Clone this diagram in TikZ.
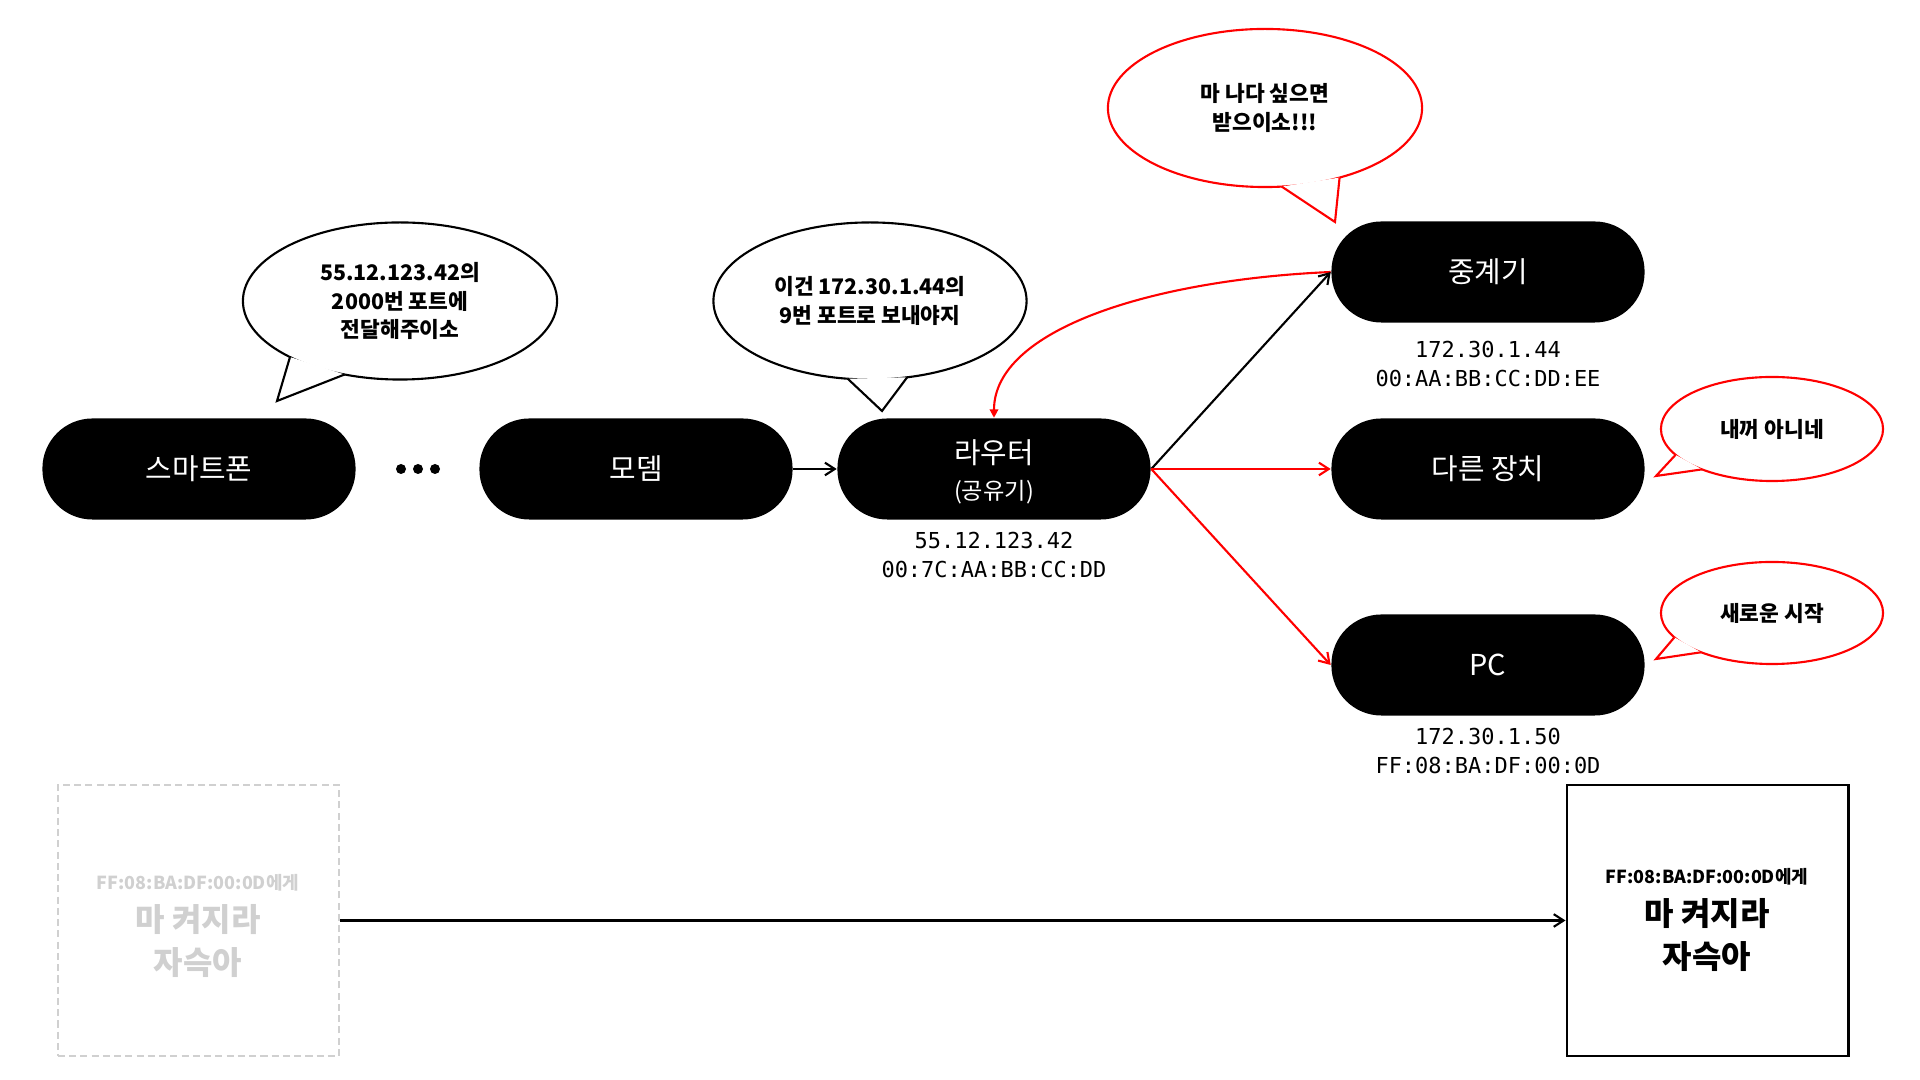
\documentclass[tikz,border=0pt]{standalone}
\usepackage{fontspec}
\setmainfont{Noto Sans CJK KR}
\newfontfamily\monof{DejaVu Sans Mono}
\usetikzlibrary{arrows.meta,shapes.geometric}
\definecolor{lightgr}{HTML}{D0D0D0}
\begin{document}
\begin{tikzpicture}[x=0.01cm,y=-0.01cm,
 dev/.style={fill=black,text=white,rounded corners=0.5cm,minimum width=3.13cm,minimum height=1.01cm,inner sep=0pt,align=center,font=\fontsize{8.2}{10.2}\selectfont},
 bub/.style={ellipse,draw=black,line width=0.6pt,fill=white,inner sep=0pt,outer sep=0pt,align=center,font=\bfseries\fontsize{6.1}{8}\selectfont},
 rbub/.style={bub,draw=red},
 tailb/.style={draw=black,line width=0.6pt,line join=miter},
 tailr/.style={draw=red,line width=0.6pt,line join=miter},
 lbl/.style={align=center,inner sep=0pt,font=\monof\fontsize{6.25}{8.1}\selectfont},
 conn/.style={line width=0.6pt,-{Straight Barb[length=2.8pt,width=3.6pt]}},
 rconn/.style={conn,draw=red},
 msgbox/.style={minimum width=2.81cm,minimum height=2.71cm,inner sep=0pt},
 ]
\useasboundingbox (0,0) rectangle (1920,1080);

% devices
\node[dev] (phone) at (199,469) {스마트폰};
\node[dev] (modem) at (636,469) {모뎀};
\node[dev] (router) at (994,469) {\rule{0pt}{8.6pt}라우터\\{\fontsize{6.6}{7}\selectfont (공유기)}};
\node[dev] (rep) at (1488,272) {중계기};
\node[dev] (other) at (1488,469) {다른 장치};
\node[dev] (pc) at (1488,665) {PC};

\foreach \x in {401,418,435} \fill (\x,469) circle[radius=0.05cm];

% address labels
\node[lbl] (routerlbl) at (994,555) {55.12.123.42\\00:7C:AA:BB:CC:DD};
\node[lbl] (replbl) at (1488,364) {172.30.1.44\\00:AA:BB:CC:DD:EE};
\node[lbl] (pclbl) at (1488,751) {172.30.1.50\\FF:08:BA:DF:00:0D};

% bubbles
\node[bub,minimum width=3.14cm,minimum height=1.57cm] (b1) at (400,301) {55.12.123.42의\\2000번 포트에\\전달해주이소};
\coordinate (t1) at (277,401);
\fill[white] (b1.207.6) -- (t1) -- (b1.233) -- cycle;
\draw[tailb] (b1.207.6) -- (t1) -- (b1.233);

\node[bub,minimum width=3.13cm,minimum height=1.57cm] (b2) at (870,301) {이건 172.30.1.44의\\9번 포트로 보내야지};
\coordinate (t2) at (882,411);
\fill[white] (b2.254) -- (t2) -- (b2.296.3) -- cycle;
\draw[tailb] (b2.254) -- (t2) -- (b2.296.3);

\node[rbub,minimum width=3.14cm,minimum height=1.58cm] (b3) at (1265,108) {마 나다 싶으면\\받으이소!!!};
\coordinate (t3) at (1335,222);
\fill[white] (b3.282.8) -- (t3) -- (b3.317) -- cycle;
\draw[tailr] (b3.282.8) -- (t3) -- (b3.317);

\node[rbub,minimum width=2.22cm,minimum height=1.04cm] (b4) at (1772,429) {내꺼 아니네};
\coordinate (t4) at (1656,476);
\fill[white] (b4.195.2) -- (t4) -- (b4.210) -- cycle;
\draw[tailr] (b4.195.2) -- (t4) -- (b4.210);

\node[rbub,minimum width=2.22cm,minimum height=1.02cm] (b5) at (1772,613) {새로운 시작};
\coordinate (t5) at (1656,659);
\fill[white] (b5.194.6) -- (t5) -- (b5.209.5) -- cycle;
\draw[tailr] (b5.194.6) -- (t5) -- (b5.209.5);

% connectors
\draw[conn] (modem.east) -- (router.west);
\draw[red,line width=0.6pt,-{Triangle[length=2.4pt,width=2.4pt]}] (rep.west) .. controls (1150,280) and (994,330) .. (router.north);
\draw[conn] (router.east) -- (rep.west);
\draw[rconn] (router.east) -- (other.west);
\draw[rconn] (router.east) -- (pc.west);

% bottom
\node[msgbox,draw=lightgr,line width=0.6pt,dash pattern=on 2pt off 1.2pt] (oldbox) at (198.5,920.5) {};
\node[msgbox,draw=black,line width=0.8pt] (newbox) at (1707.5,920.5) {};
\draw[conn] (oldbox.east) -- (newbox.west);
\node[text=lightgr,inner sep=0pt,font=\bfseries\fontsize{5.1}{6}\selectfont] (oldmac) at (198,883) {FF:08:BA:DF:00:0D에게};
\node[text=lightgr,inner sep=0pt,align=center,font=\bfseries\fontsize{9.1}{12.5}\selectfont] (oldmsg) at (198,941) {마 켜지라\\자슥아};
\node[inner sep=0pt,font=\bfseries\fontsize{5.1}{6}\selectfont] (newmac) at (1707,877) {FF:08:BA:DF:00:0D에게};
\node[inner sep=0pt,align=center,font=\bfseries\fontsize{9.1}{12.5}\selectfont] (newmsg) at (1707,935) {마 켜지라\\자슥아};
\end{tikzpicture}
\end{document}
